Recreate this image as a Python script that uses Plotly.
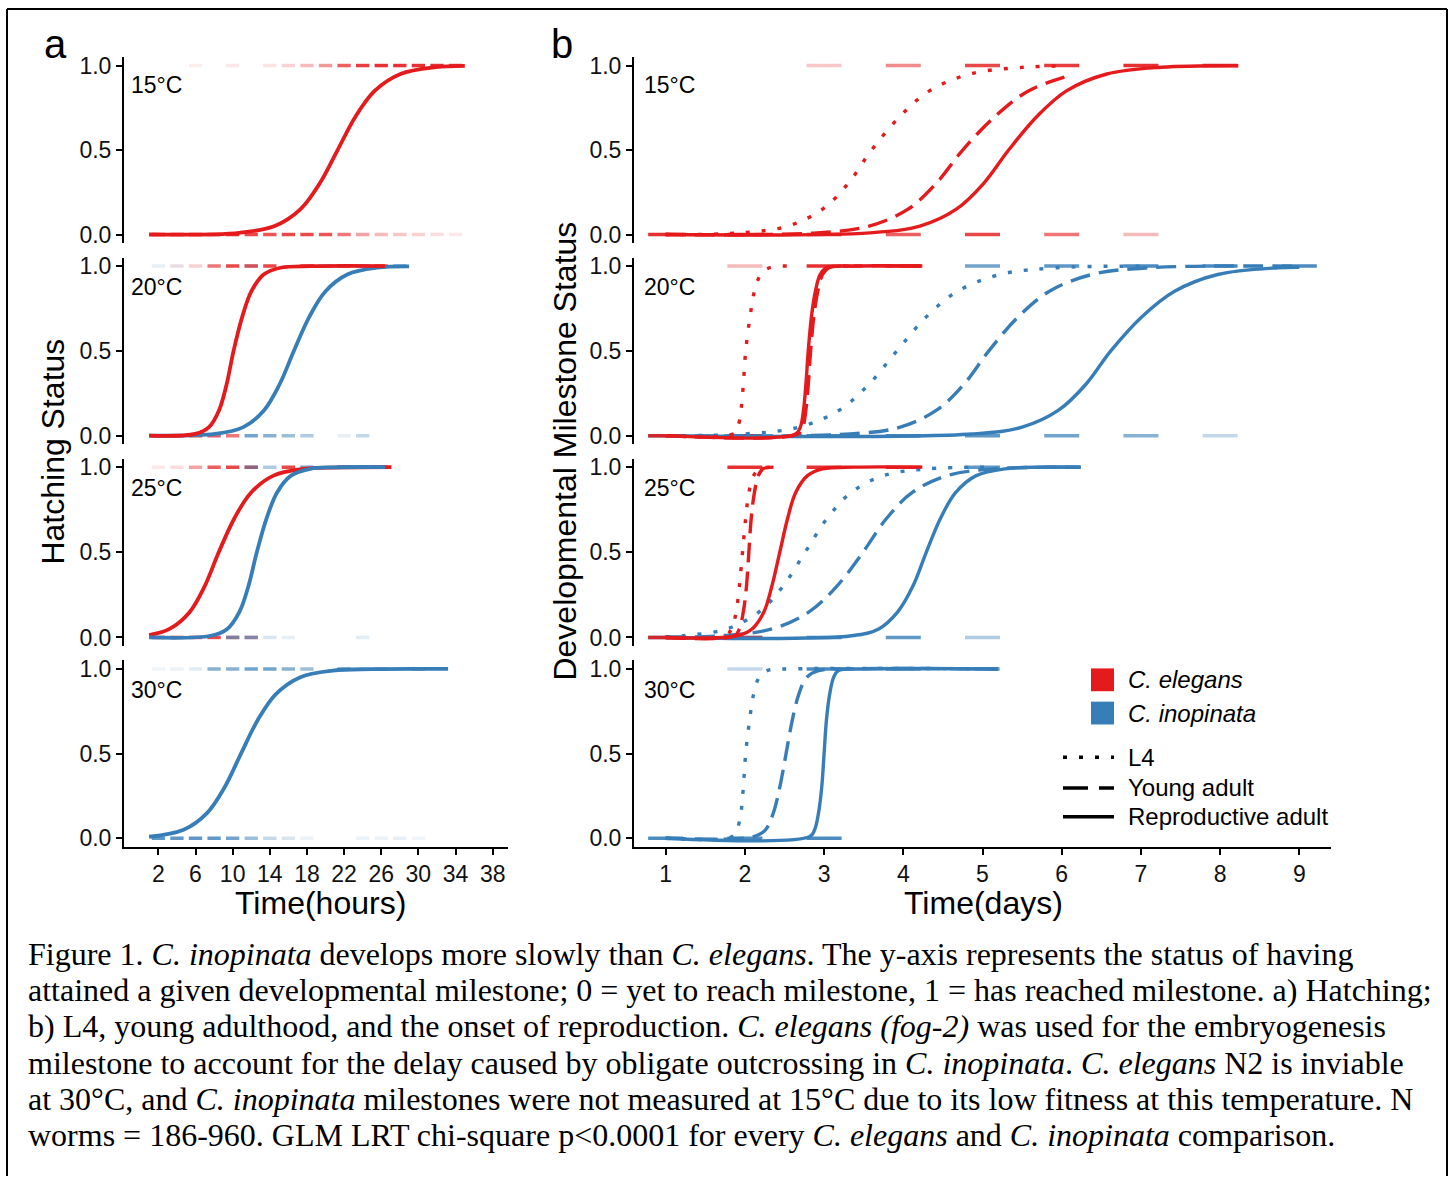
import plotly.graph_objects as go

W, H = 1453, 1181
RED = "#E41A1C"
BLUE = "#377EB8"
SANS = "Liberation Sans, Arial, sans-serif"
SERIF = "Liberation Serif, Times New Roman, serif"

TEMPS = ["15°C", "20°C", "25°C", "30°C"]
HOUR_TICKS = [2, 6, 10, 14, 18, 22, 26, 30, 34, 38]
DAY_TICKS = [1, 2, 3, 4, 5, 6, 7, 8, 9]

# ---- a) hatching, fitted proportion hatched vs hours: (time, proportion)
A15_ELE = [(1.0, 0.0), (10.73, 0.01), (14.53, 0.05), (17.31, 0.15), (19.35, 0.3), (21.3, 0.5),
           (23.25, 0.7), (25.29, 0.85), (28.07, 0.95), (31.87, 0.99), (35.0, 0.998)]
A20_ELE = [(1.0, 0.0), (5.96, 0.01), (7.45, 0.05), (8.54, 0.15), (9.34, 0.3), (10.1, 0.5),
           (11.03, 0.7), (12.01, 0.85), (13.34, 0.95), (15.15, 0.99), (18.5, 0.999), (26.4, 1.0)]
A20_INO = [(1.0, 0.0), (8.1, 0.01), (11.15, 0.05), (13.39, 0.15), (15.03, 0.3), (16.6, 0.5),
           (18.25, 0.7), (19.98, 0.85), (22.34, 0.95), (25.56, 0.99), (29.0, 0.998)]
A25_ELE = [(1.0, 0.014), (3.2, 0.05), (5.38, 0.15), (6.98, 0.3), (8.5, 0.5), (10.19, 0.7),
           (11.97, 0.85), (14.39, 0.95), (17.69, 0.99), (22.0, 0.998), (27.1, 1.0)]
A25_INO = [(1.0, 0.0), (7.64, 0.01), (9.42, 0.05), (10.73, 0.15), (11.69, 0.3), (12.6, 0.5),
           (13.66, 0.7), (14.77, 0.85), (16.28, 0.95), (18.34, 0.99), (21.0, 0.999), (26.4, 1.0)]
A30_INO = [(1.0, 0.009), (4.72, 0.05), (7.26, 0.15), (9.12, 0.3), (10.9, 0.5), (12.72, 0.7),
           (14.63, 0.85), (17.23, 0.95), (20.78, 0.99), (25.0, 0.999), (33.2, 1.0)]

# ---- b) developmental milestones vs days: (time, proportion)
B15_ELE_L4 = [(1.0, 0.0), (1.95, 0.01), (2.54, 0.05), (2.98, 0.15), (3.3, 0.3), (3.6, 0.5),
              (3.96, 0.7), (4.33, 0.85), (4.84, 0.95), (5.53, 0.99), (6.0, 0.997)]
B15_ELE_YA = [(1.0, 0.0), (2.91, 0.01), (3.57, 0.05), (4.06, 0.15), (4.41, 0.3), (4.75, 0.5),
              (5.16, 0.7), (5.58, 0.85), (6.1, 0.94)]
B15_ELE_RA = [(1.0, 0.0), (3.58, 0.01), (4.21, 0.05), (4.67, 0.15), (5.01, 0.3), (5.33, 0.5),
              (5.69, 0.7), (6.06, 0.85), (6.57, 0.95), (7.26, 0.99), (8.23, 0.999)]

B20_ELE_L4 = [(1.0, 0.0), (1.85, 0.01), (1.91, 0.05), (1.95, 0.15), (1.98, 0.3), (2.01, 0.5),
              (2.065, 0.7), (2.12, 0.85), (2.2, 0.95), (2.31, 0.99), (2.6, 1.0)]
B20_ELE_YA = [(1.0, 0.0), (2.67, 0.01), (2.73, 0.05), (2.77, 0.15), (2.8, 0.3), (2.83, 0.5),
              (2.87, 0.7), (2.92, 0.85), (2.98, 0.95), (3.06, 0.99), (3.4, 1.0), (4.24, 1.0)]
B20_ELE_RA = [(1.0, 0.0), (2.64, 0.01), (2.7, 0.05), (2.74, 0.15), (2.77, 0.3), (2.8, 0.5),
              (2.84, 0.7), (2.89, 0.85), (2.95, 0.95), (3.03, 0.99), (3.4, 1.0), (4.24, 1.0)]
B20_INO_L4 = [(1.0, 0.0), (1.99, 0.01), (2.68, 0.05), (3.19, 0.15), (3.56, 0.3), (3.92, 0.5),
              (4.29, 0.7), (4.68, 0.85), (5.22, 0.95), (5.94, 0.99), (7.0, 0.999)]
B20_INO_YA = [(1.0, 0.0), (3.33, 0.01), (3.96, 0.05), (4.42, 0.15), (4.76, 0.3), (5.08, 0.5),
              (5.45, 0.7), (5.84, 0.85), (6.38, 0.95), (7.1, 0.99), (9.0, 0.999)]
B20_INO_RA = [(1.0, 0.0), (4.87, 0.01), (5.5, 0.05), (5.96, 0.15), (6.3, 0.3), (6.62, 0.5),
              (7.01, 0.7), (7.42, 0.85), (7.97, 0.95), (8.73, 0.99), (9.0, 0.993)]

B25_ELE_L4 = [(1.0, 0.0), (1.75, 0.01), (1.83, 0.05), (1.89, 0.15), (1.93, 0.3), (1.97, 0.5),
              (2.01, 0.7), (2.05, 0.85), (2.11, 0.95), (2.19, 0.99), (2.4, 1.0)]
B25_ELE_YA = [(1.0, 0.0), (1.87, 0.01), (1.93, 0.05), (1.98, 0.15), (2.02, 0.3), (2.05, 0.5),
              (2.08, 0.7), (2.12, 0.85), (2.17, 0.95), (2.23, 0.99), (2.4, 1.0)]
B25_ELE_RA = [(1.0, 0.0), (1.9, 0.01), (2.09, 0.05), (2.24, 0.15), (2.34, 0.3), (2.44, 0.5),
              (2.54, 0.7), (2.64, 0.85), (2.79, 0.95), (2.98, 0.99), (3.4, 1.0), (4.24, 1.0)]
B25_INO_L4 = [(1.0, 0.004), (1.22, 0.01), (1.77, 0.05), (2.18, 0.15), (2.48, 0.3), (2.76, 0.5),
              (3.04, 0.7), (3.34, 0.85), (3.75, 0.95), (4.3, 0.99), (5.07, 0.999)]
B25_INO_YA = [(1.0, 0.002), (1.7, 0.01), (2.34, 0.05), (2.81, 0.15), (3.16, 0.3), (3.49, 0.5),
              (3.79, 0.7), (4.11, 0.85), (4.55, 0.95), (5.14, 0.99), (6.24, 0.999)]
B25_INO_RA = [(1.0, 0.0), (3.35, 0.01), (3.69, 0.05), (3.93, 0.15), (4.12, 0.3), (4.29, 0.5),
              (4.47, 0.7), (4.66, 0.85), (4.92, 0.95), (5.28, 0.99), (6.24, 1.0)]

B30_INO_L4 = [(1.0, 0.0), (1.84, 0.01), (1.9, 0.05), (1.95, 0.15), (1.98, 0.3), (2.01, 0.5),
              (2.06, 0.7), (2.11, 0.85), (2.18, 0.95), (2.28, 0.99), (2.6, 1.0), (5.2, 1.0)]
B30_INO_YA = [(1.0, 0.0), (2.11, 0.01), (2.26, 0.05), (2.36, 0.15), (2.44, 0.3), (2.52, 0.5),
              (2.6, 0.7), (2.68, 0.85), (2.78, 0.95), (2.93, 0.99), (3.3, 1.0), (5.2, 1.0)]
B30_INO_RA = [(1.0, 0.0), (2.82, 0.01), (2.88, 0.05), (2.93, 0.15), (2.97, 0.3), (3.0, 0.5),
              (3.03, 0.7), (3.07, 0.85), (3.12, 0.95), (3.18, 0.99), (3.5, 1.0), (5.2, 1.0)]

# ---- observed worms (jittered points) as (time, opacity); HI = reached, LO = not yet
A15_ELE_HI = [(6, .08), (10, .1), (14, .12), (16, .2), (18, .3), (20, .45), (22, .7), (24, .85),
              (26, .9), (28, .9), (30, .9), (32, .9), (34, .9)]
A15_ELE_LO = [(2, .9), (4, .9), (6, .9), (8, .9), (10, .9), (12, .8), (14, .75), (16, .8), (18, .8),
              (20, .75), (22, .6), (24, .4), (26, .3), (28, .25), (30, .2), (32, .15), (34, .1)]
A20_ELE_HI = [(4, .1), (6, .2), (8, .6), (10, .8), (12, .8), (14, .8), (18, .8), (22, .8), (26, .8)]
A20_ELE_LO = [(2, .8), (4, .8), (6, .8), (8, .7), (10, .6)]
A20_INO_HI = [(2, .12), (4, .1), (12, .15), (20, .6), (24, .7), (28, .7)]
A20_INO_LO = [(12, .7), (14, .6), (16, .5), (18, .4), (22, .12), (24, .3)]
A25_ELE_HI = [(2, .1), (4, .15), (6, .4), (8, .7), (10, .8), (12, .8), (16, .8), (22, .8), (26, .8)]
A25_ELE_LO = [(2, .8), (4, .8), (6, .8), (8, .8), (10, .6), (12, .5)]
A25_INO_HI = [(12, .5), (14, .4), (18, .7), (22, .7), (26, .7)]
A25_INO_LO = [(10, .6), (12, .6), (14, .2), (16, .12), (24, .15)]
A30_INO_HI = [(2, .08), (4, .1), (6, .15), (8, .6), (10, .6), (12, .7), (14, .7), (16, .6),
              (18, .5), (22, .7), (26, .7), (30, .7)]
A30_INO_LO = [(2, .8), (4, .8), (6, .8), (8, .8), (10, .7), (12, .5), (14, .3), (16, .2),
              (18, .1), (24, .1), (26, .1), (28, .12), (30, .08)]

B15_ELE_HI = [(3, .25), (4, .5), (5, .8), (6, .85), (7, .9), (8, .9)]
B15_ELE_LO = [(1, .9), (2, .9), (3, .9), (4, .7), (5, .8), (6, .6), (7, .3)]
B20_ELE_HI = [(2, .3), (3, .9), (4, .9)]
B20_ELE_LO = [(1, .9), (2, .9)]
B20_INO_HI = [(5, .7), (6, .8), (7, .9), (8, .9), (9, .9)]
B20_INO_LO = [(1, .9), (2, .9), (3, .9), (4, .9), (5, .8), (6, .7), (7, .6), (8, .3)]
B25_ELE_HI = [(2, .9), (3, .9), (4, .9)]
B25_ELE_LO = [(1, .9), (2, .6)]
B25_INO_HI = [(5, .8), (6, .8)]
B25_INO_LO = [(1, .9), (2, .9), (3, .9), (4, .8), (5, .4)]
B30_INO_HI = [(2, .3), (3, .9), (4, .9), (5, .5)]
B30_INO_LO = [(1, .9), (2, .9), (3, .9)]

DOT = "4px,12px"
DASH = "20px,9px"

# panel geometry (pixels)
A_X = (124, 508)
B_X = (634, 1331)
ROW_TOP = [53.5, 255.5, 458.1, 661.5]
ROW_BOT = [240.8, 443.5, 646.9, 849.2]


def px(x):
    return x / W


def py(y):
    return 1 - y / H


fig = go.Figure()


def rgba(hexcol, a):
    h = hexcol.lstrip("#")
    r, g, b = int(h[0:2], 16), int(h[2:4], 16), int(h[4:6], 16)
    return f"rgba({r},{g},{b},{a})"


def add_rug(k, obs, level, color, size):
    if not obs:
        return
    fig.add_trace(go.Scatter(
        x=[t for t, _ in obs], y=[level] * len(obs), mode="markers",
        xaxis=f"x{k}", yaxis=f"y{k}", hoverinfo="skip", showlegend=False,
        marker=dict(symbol="line-ew", size=size,
                    line=dict(width=3.5, color=[rgba(color, a) for _, a in obs]))))


def add_curve(k, pts, color, dash="solid", width=3.4):
    fig.add_trace(go.Scatter(
        x=[t for t, _ in pts], y=[p for _, p in pts], mode="lines",
        xaxis=f"x{k}", yaxis=f"y{k}", hoverinfo="skip", showlegend=False,
        line=dict(color=color, width=width, dash=dash, shape="spline", smoothing=1.0)))


# observations first so the fitted curves sit on top
A_RUG = 9.5
B_RUG = 25
add_rug(1, A15_ELE_HI, 1, RED, A_RUG); add_rug(1, A15_ELE_LO, 0, RED, A_RUG)
add_rug(2, A20_ELE_HI, 1, RED, A_RUG); add_rug(2, A20_ELE_LO, 0, RED, A_RUG)
add_rug(2, A20_INO_HI, 1, BLUE, A_RUG); add_rug(2, A20_INO_LO, 0, BLUE, A_RUG)
add_rug(3, A25_ELE_HI, 1, RED, A_RUG); add_rug(3, A25_ELE_LO, 0, RED, A_RUG)
add_rug(3, A25_INO_HI, 1, BLUE, A_RUG); add_rug(3, A25_INO_LO, 0, BLUE, A_RUG)
add_rug(4, A30_INO_HI, 1, BLUE, A_RUG); add_rug(4, A30_INO_LO, 0, BLUE, A_RUG)
add_rug(5, B15_ELE_HI, 1, RED, B_RUG); add_rug(5, B15_ELE_LO, 0, RED, B_RUG)
add_rug(6, B20_INO_HI, 1, BLUE, B_RUG); add_rug(6, B20_INO_LO, 0, BLUE, B_RUG)
add_rug(6, B20_ELE_HI, 1, RED, B_RUG); add_rug(6, B20_ELE_LO, 0, RED, B_RUG)
add_rug(7, B25_INO_HI, 1, BLUE, B_RUG); add_rug(7, B25_INO_LO, 0, BLUE, B_RUG)
add_rug(7, B25_ELE_HI, 1, RED, B_RUG); add_rug(7, B25_ELE_LO, 0, RED, B_RUG)
add_rug(8, B30_INO_HI, 1, BLUE, B_RUG); add_rug(8, B30_INO_LO, 0, BLUE, B_RUG)

# a) hatching curves
AW = 3.8
add_curve(1, A15_ELE, RED, width=AW)
add_curve(2, A20_INO, BLUE, width=AW)
add_curve(2, A20_ELE, RED, width=AW)
add_curve(3, A25_ELE, RED, width=AW)
add_curve(3, A25_INO, BLUE, width=AW)
add_curve(4, A30_INO, BLUE, width=AW)

# b) milestone curves
add_curve(5, B15_ELE_L4, RED, DOT)
add_curve(5, B15_ELE_YA, RED, DASH)
add_curve(5, B15_ELE_RA, RED)
add_curve(6, B20_INO_L4, BLUE, DOT)
add_curve(6, B20_INO_YA, BLUE, DASH)
add_curve(6, B20_INO_RA, BLUE)
add_curve(6, B20_ELE_L4, RED, DOT)
add_curve(6, B20_ELE_YA, RED, DASH)
add_curve(6, B20_ELE_RA, RED)
add_curve(7, B25_INO_L4, BLUE, DOT)
add_curve(7, B25_INO_YA, BLUE, DASH)
add_curve(7, B25_INO_RA, BLUE)
add_curve(7, B25_ELE_L4, RED, DOT)
add_curve(7, B25_ELE_YA, RED, DASH)
add_curve(7, B25_ELE_RA, RED)
add_curve(8, B30_INO_L4, BLUE, DOT)
add_curve(8, B30_INO_YA, BLUE, DASH)
add_curve(8, B30_INO_RA, BLUE)

TICKFONT = dict(family=SANS, size=23, color="#111")
layout = dict(
    width=W, height=H, autosize=False,
    margin=dict(l=0, r=0, t=0, b=0),
    paper_bgcolor="white", plot_bgcolor="white",
    showlegend=False,
)

for k in range(1, 9):
    row = (k - 1) % 4
    xdom = A_X if k <= 4 else B_X
    xr = [-1.7, 39.65] if k <= 4 else [0.6, 9.4]
    bottom = row == 3
    xa = dict(domain=[px(xdom[0]), px(xdom[1])], range=xr, anchor=f"y{k}",
              showgrid=False, zeroline=False, fixedrange=True)
    if bottom:
        xa.update(showline=True, linecolor="black", linewidth=2, ticks="outside",
                  ticklen=6, tickwidth=2, tickcolor="black", tickfont=TICKFONT,
                  tickmode="array", tickvals=HOUR_TICKS if k <= 4 else DAY_TICKS)
    else:
        xa.update(visible=False)
    ya = dict(domain=[py(ROW_BOT[row]), py(ROW_TOP[row])], range=[-0.05, 1.05],
              anchor=f"x{k}", showgrid=False, zeroline=False, fixedrange=True,
              showline=True, linecolor="black", linewidth=2, ticks="outside",
              ticklen=6, tickwidth=2, tickcolor="black", tickfont=TICKFONT,
              tickmode="array", tickvals=[0, 0.5, 1], ticktext=["0.0", "0.5", "1.0"])
    layout["xaxis" if k == 1 else f"xaxis{k}"] = xa
    layout["yaxis" if k == 1 else f"yaxis{k}"] = ya

fig.update_layout(**layout)

ann = []


def text(x, y, s, size, xanchor="left", family=SANS, angle=0, yanchor="middle"):
    ann.append(dict(x=px(x), y=py(y), xref="paper", yref="paper", text=s, showarrow=False,
                    xanchor=xanchor, yanchor=yanchor, textangle=angle,
                    font=dict(family=family, size=size, color="black")))


# panel letters
text(55, 40, "a", 40, xanchor="center")
text(562, 40, "b", 40, xanchor="center")

# temperature labels
TEMP_Y = [82, 285, 488, 691]
for t, ty in zip(TEMPS, TEMP_Y):
    text(129, ty, t, 23)
    text(642, ty, t, 23)

# axis titles
text(320, 906, "Time(hours)", 32, xanchor="center")
text(983, 906, "Time(days)", 32, xanchor="center")
text(53, 451, "Hatching Status", 32, xanchor="center", angle=-90)
text(565, 451, "Developmental Milestone Status", 32, xanchor="center", angle=-90)

# legend
shapes = []
LEG_SPECIES = [("<i>C. elegans</i>", RED, 681), ("<i>C. inopinata</i>", BLUE, 714.5)]
for label, col, ly in LEG_SPECIES:
    shapes.append(dict(type="rect", xref="paper", yref="paper", x0=px(1091), x1=px(1114),
                       y0=py(ly - 11.5), y1=py(ly + 11.5), fillcolor=col,
                       line=dict(width=0)))
    text(1126, ly, label, 24)
LEG_STAGES = [("L4", "4px,12px", 759), ("Young adult", "25px,11px", 790),
              ("Reproductive adult", "solid", 819)]
for label, dash, ly in LEG_STAGES:
    shapes.append(dict(type="line", xref="paper", yref="paper", x0=px(1063), x1=px(1114),
                       y0=py(ly), y1=py(ly), line=dict(color="black", width=3.5, dash=dash)))
    text(1126, ly, label, 24)

# outer frame
for x0, y0, x1, y1 in [(7, 5, 1447, 5), (7, 5, 7, 1181), (1447, 5, 1447, 1181)]:
    shapes.append(dict(type="line", xref="paper", yref="paper", x0=px(x0), x1=px(x1),
                       y0=py(y0), y1=py(y1), line=dict(color="black", width=2)))

# caption
CAPTION = [
    "Figure 1. <i>C. inopinata</i> develops more slowly than <i>C. elegans</i>. The y-axis represents the status of having",
    "attained a given developmental milestone; 0 = yet to reach milestone, 1 = has reached milestone. a) Hatching;",
    "b) L4, young adulthood, and the onset of reproduction. <i>C. elegans (fog-2)</i> was used for the embryogenesis",
    "milestone to account for the delay caused by obligate outcrossing in <i>C. inopinata</i>. <i>C. elegans</i> N2 is inviable",
    "at 30°C, and <i>C. inopinata</i> milestones were not measured at 15°C due to its low fitness at this temperature. N",
    "worms = 186-960. GLM LRT chi-square p&lt;0.0001 for every <i>C. elegans</i> and <i>C. inopinata</i> comparison.",
]
CAP_Y = [957, 993.5, 1030, 1067, 1103.5, 1140]
for line, cy in zip(CAPTION, CAP_Y):
    text(26, cy, line, 32, family=SERIF)

fig.update_layout(annotations=ann, shapes=shapes)
fig.write_html("out.html")
